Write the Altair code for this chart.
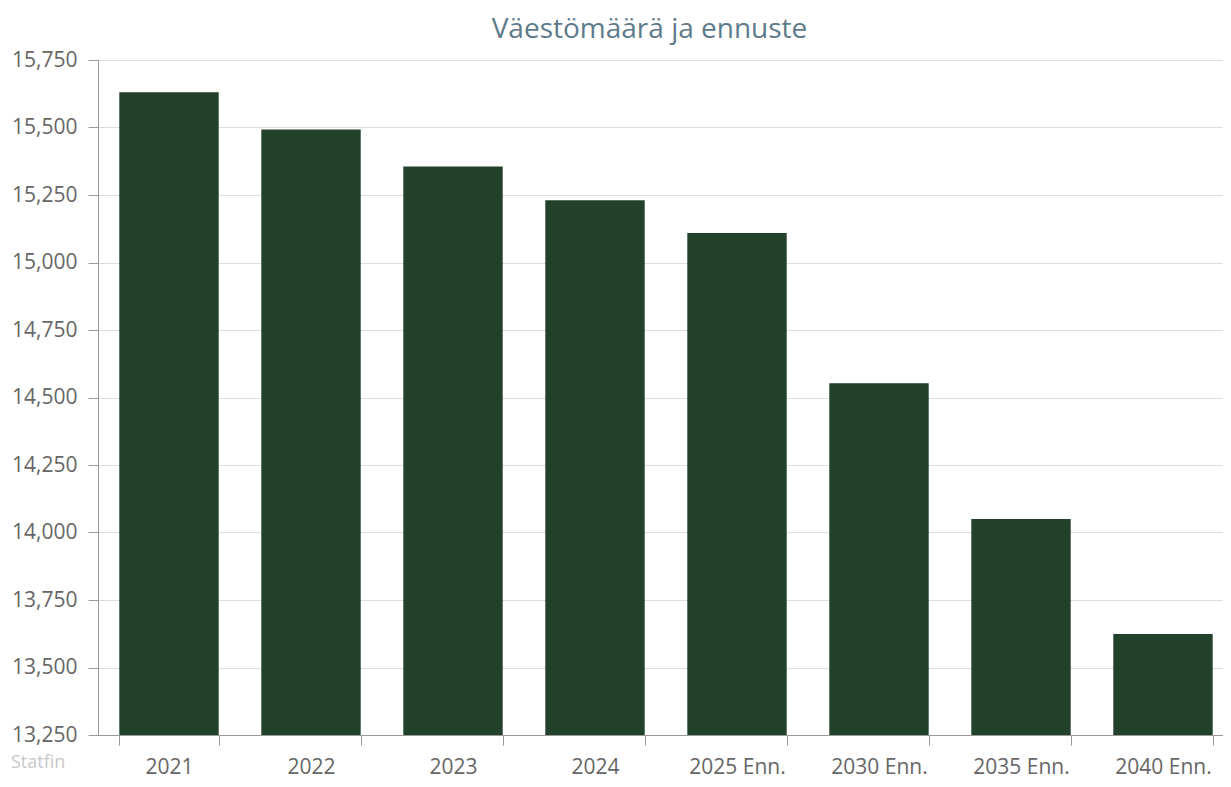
import altair as alt
import pandas as pd

categories = ["2021", "2022", "2023", "2024", "2025 Enn.", "2030 Enn.", "2035 Enn.", "2040 Enn."]
values = [15631, 15493, 15356, 15231, 15109, 14553, 14050, 13624]
y_ticks = [13250, 13500, 13750, 14000, 14250, 14500, 14750, 15000, 15250, 15500, 15750]
y_min = 13250
y_max = 15750
title_text = "Väestömäärä ja ennuste"
credit_text = "Statfin"

df = pd.DataFrame({"cat": categories, "val": values, "base": [y_min] * len(categories)})

FONT = "Open Sans"

bars = alt.Chart(df).mark_bar(color="#22412a").encode(
    x=alt.X(
        "cat:N",
        sort=categories,
        scale=alt.Scale(range=[0, 1136], paddingInner=0.3, paddingOuter=0.15),
        axis=alt.Axis(
            title=None,
            labelAngle=0,
            tickBand="extent",
            tickSize=10,
            tickColor="#999999",
            domainColor="#999999",
            labelColor="#666666",
            labelFontSize=21,
            labelFont=FONT,
            labelPadding=11,
            grid=False,
        ),
    ),
    y=alt.Y(
        "val:Q",
        scale=alt.Scale(domain=[y_min, y_max], zero=False, nice=False),
        axis=alt.Axis(
            title=None,
            values=y_ticks,
            format=",.0f",
            tickSize=10,
            tickColor="#999999",
            domainColor="#999999",
            gridColor="#dddddd",
            labelColor="#666666",
            labelFontSize=21,
            labelFont=FONT,
            labelPadding=11,
        ),
    ),
    y2="base:Q",
)

credit = alt.Chart(pd.DataFrame({"t": [credit_text]})).mark_text(
    align="left", baseline="middle", fontSize=18, font=FONT, color="#c8c8c8"
).encode(
    x=alt.value(-87),
    y=alt.value(703),
    text="t:N",
)

chart = alt.layer(bars, credit).properties(
    width=1125,
    height=675,
    autosize=alt.AutoSizeParams(type="none"),
    padding={"left": 90, "top": 52, "right": 0, "bottom": 44},
    title=alt.TitleParams(
        title_text,
        anchor="middle",
        frame="group",
        dx=-11,
        offset=5,
        fontSize=28,
        font=FONT,
        fontWeight="normal",
        color="#5e7b8c",
    ),
).configure_view(stroke=None).configure(background="white")

chart.save("out.html", embed_options={"renderer": "svg", "actions": False})
